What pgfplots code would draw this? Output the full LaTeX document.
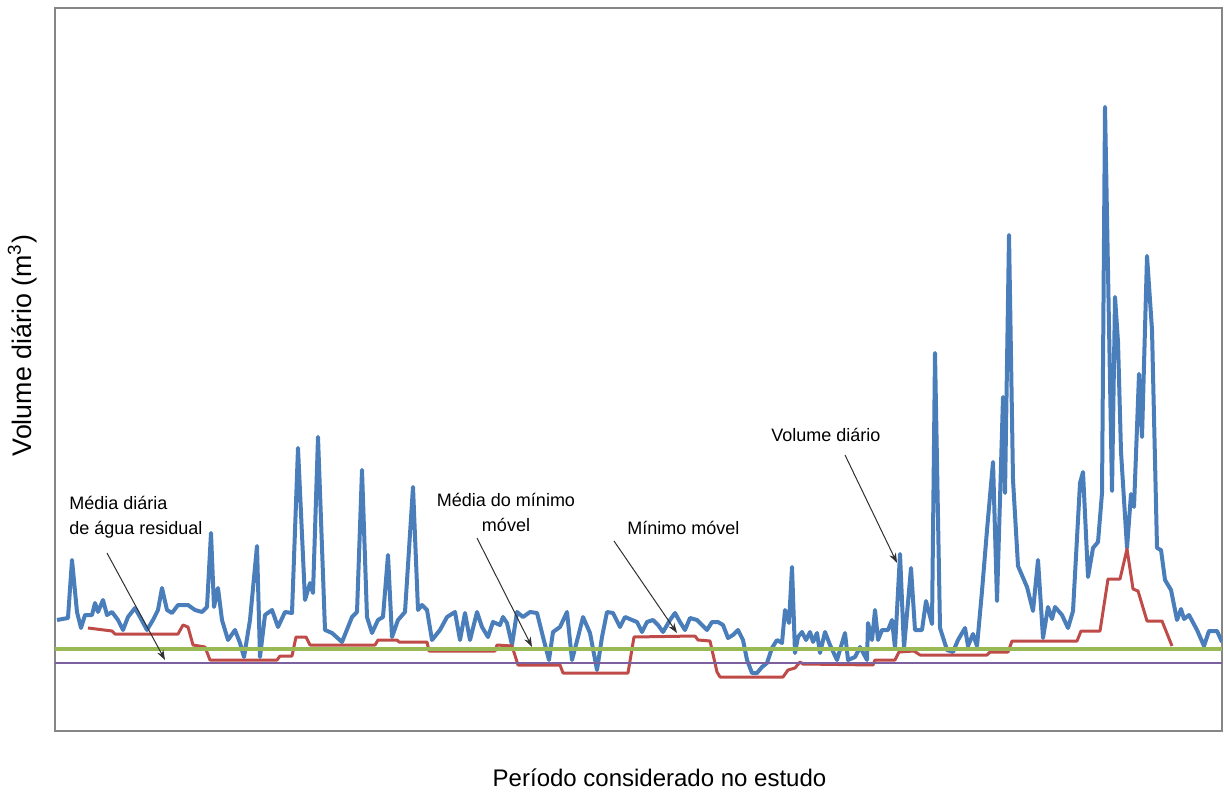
\documentclass[border=0pt]{standalone}
\usepackage{pgfplots}
\pgfplotsset{compat=1.18}
\usepackage{fontspec}
\setmainfont{Liberation Sans}
\usetikzlibrary{arrows.meta}

\definecolor{volblue}{HTML}{4A7EBB}
\definecolor{minred}{HTML}{BE4B48}
\definecolor{avggreen}{HTML}{98B954}
\definecolor{respurple}{HTML}{7D60A0}
\definecolor{framegray}{HTML}{868686}
\definecolor{arrowgray}{HTML}{303030}

\tikzset{
    annot/.style={font=\fontsize{9}{12.5}\selectfont, inner sep=0pt},
    pointer/.style={draw=arrowgray, line width=0.5pt,
        -{Stealth[length=5pt,width=3.5pt]}},
}

\begin{document}
\begin{tikzpicture}
\begin{axis}[
    width=583.5pt, height=361.5pt, scale only axis,
    xmin=55, xmax=1222, ymin=0, ymax=723,
    ticks=none,
    axis line style={draw=framegray, line width=0.8pt},
    xlabel={Período considerado no estudo},
    ylabel={Volume diário (m\textsuperscript{3})},
    xlabel style={at={(axis description cs:0.518,-0.065)}, anchor=center,
        font=\fontsize{12}{14}\selectfont},
    ylabel style={at={(axis description cs:-0.028,0.533)}, anchor=center,
        font=\fontsize{13.4}{15}\selectfont},
]

% Volume diario
\addplot[color=volblue, line width=2pt, line join=round] coordinates {
(57,111)(68,113)(72,171)(77,119)(81,103)(85,116)(92,116)(95,128)(98,119)
(103,131)(107,116)(112,119)(118,111)(123,101)(128,114)(135,123)(140,114)
(147,101)(153,111)(158,121)(162,143)(167,121)(172,118)(178,126)(188,126)
(195,121)(202,119)(207,124)(211,198)(214,124)(218,143)(222,111)(228,91)
(235,101)(240,88)(244,74)(250,111)(257,185)(260,74)(265,116)(272,121)
(278,104)(285,119)(292,118)(298,283)(305,131)(310,148)(313,138)(318,294)
(325,101)(332,98)(342,89)(352,114)(357,119)(362,261)(367,114)(372,98)
(378,111)(383,114)(388,176)(392,94)(398,111)(405,119)(413,244)(418,121)
(422,126)(427,121)(432,91)(440,101)(447,114)(455,119)(460,91)(465,118)
(470,91)(477,119)(482,104)(488,94)(493,109)(500,106)(503,114)(507,108)
(512,86)(517,119)(523,114)(530,119)(537,118)(543,94)(549,71)(553,99)
(560,104)(567,119)(572,71)(578,94)(583,114)(590,98)(597,61)(602,94)
(607,119)(613,118)(620,104)(625,114)(632,111)(637,109)(642,99)(647,109)
(653,111)(658,106)(663,99)(670,111)(675,118)(680,109)(685,101)(690,113)
(697,111)(702,106)(707,101)(712,109)(718,109)(723,106)(728,93)(733,96)
(738,101)(743,91)(747,71)(752,58)(757,58)(762,64)(767,68)(772,83)
(777,91)(782,88)(785,121)(789,108)(792,164)(795,78)(798,94)(802,99)
(806,91)(810,99)(813,89)(817,98)(820,78)(825,99)(830,86)(837,71)
(845,98)(848,71)(855,74)(860,84)(867,71)(868,108)(872,91)(875,121)
(878,91)(882,101)(888,101)(892,111)(895,83)(900,177)(904,83)(911,163)
(915,101)(922,101)(926,130)(932,107)(935,378)(940,103)(947,81)(953,79)
(958,91)(965,103)(968,85)(973,97)(977,85)(982,140)(987,201)(993,269)
(997,130)(1003,334)(1005,238)(1009,496)(1013,251)(1018,165)(1027,144)
(1033,120)(1038,171)(1043,93)(1048,124)(1052,112)(1055,124)(1062,116)
(1068,103)(1073,120)(1080,248)(1083,259)(1088,154)(1093,183)(1098,189)
(1102,238)(1105,624)(1112,240)(1115,434)(1118,389)(1121,279)(1127,183)
(1131,237)(1134,224)(1139,357)(1142,294)(1147,475)(1152,401)(1157,183)
(1161,181)(1165,151)(1171,141)(1177,111)(1181,122)(1184,112)(1189,116)
(1197,101)(1204,85)(1209,100)(1217,100)(1222,89)
};

% Minimo movel
\addplot[color=minred, line width=1.5pt, line join=round] coordinates {
(88,103)(112,100)(115,97)(178,97)(183,106)(188,104)(193,86)(205,84)
(210,71)(277,71)(280,75)(292,75)(296,94)(306,94)(310,86)(375,86)
(378,91)(397,91)(399,89)(427,89)(429,80)(495,80)(497,86)(512,85)
(518,66)(560,66)(563,58)(628,58)(634,94)(695,95)(698,91)(710,90)
(717,59)(720,54)(783,54)(788,61)(795,63)(800,69)(803,67)(873,66)
(875,71)(895,71)(899,79)(914,80)(920,76)(987,76)(990,79)(1008,79)
(1012,90)(1077,90)(1081,100)(1100,100)(1108,152)(1120,152)(1127,182)
(1133,142)(1138,140)(1147,110)(1162,110)(1172,85)
};

% Media do minimo movel
\addplot[color=avggreen, line width=2pt] coordinates {(55,82)(1222,82)};

% Media diaria de agua residual
\addplot[color=respurple, line width=1pt] coordinates {(55,68)(1222,68)};

\node[annot, anchor=base west, align=left] at (69,196)
    {Média diária\\de água residual};
\draw[pointer] (107,178) -- (165,71);

\node[annot, anchor=base, align=center] at (506,199)
    {Média do mínimo\\móvel};
\draw[pointer] (477,193) -- (532,84);

\node[annot, anchor=base west] at (627,197) {Mínimo móvel};
\draw[pointer] (614,190) -- (677,98);

\node[annot, anchor=base west] at (771,289) {Volume diário};
\draw[pointer] (845,276) -- (897,168);

\end{axis}
\pgfresetboundingbox
\path ([shift={(-27.5pt,-30.5pt)}]current axis.south west)
    rectangle ([shift={(1pt,4pt)}]current axis.north east);
\end{tikzpicture}
\end{document}
